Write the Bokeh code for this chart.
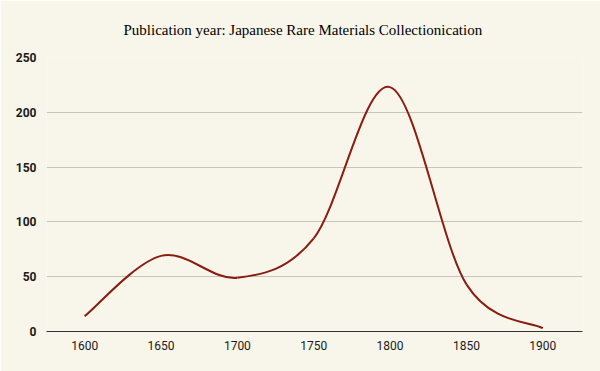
from bokeh.plotting import figure
from bokeh.models import Range1d, FixedTicker, ColumnDataSource
from bokeh.embed import file_html
from bokeh.resources import INLINE

# Data
years = [1600, 1650, 1700, 1750, 1800, 1850, 1900]
counts = [14, 69, 49, 85, 223, 43, 3]
x_ticks = [1600, 1650, 1700, 1750, 1800, 1850, 1900]
y_ticks = [0, 50, 100, 150, 200, 250]
title_text = "Publication year: Japanese Rare Materials Collectionication"

BG = "#f8f5ea"
LINE = "#8b1c10"

p = figure(width=600, height=371, output_backend="svg", toolbar_location=None,
           x_range=Range1d(1575, 1926), y_range=Range1d(0, 250),
           background_fill_color=BG, border_fill_color=BG,
           min_border_left=46, min_border_right=18, min_border_top=57, min_border_bottom=40)
p.outline_line_color = None

p.title.text = title_text
p.title.align = "left"
p.title.offset = 77
p.title.text_font = "Liberation Serif"
p.title.text_font_size = "15px"
p.title.text_font_style = "normal"
p.title.text_color = "#000000"
p.title.standoff = 39

# Smooth curve (Catmull-Rom -> cubic Bezier) through the data points
n = len(years)
x0s, y0s, x1s, y1s, cx0, cy0, cx1, cy1 = [], [], [], [], [], [], [], []
for i in range(n - 1):
    pa = (years[max(i - 1, 0)], counts[max(i - 1, 0)])
    pb = (years[i], counts[i])
    pc = (years[i + 1], counts[i + 1])
    pd = (years[min(i + 2, n - 1)], counts[min(i + 2, n - 1)])
    x0s.append(pb[0]); y0s.append(pb[1])
    x1s.append(pc[0]); y1s.append(pc[1])
    cx0.append(pb[0] + (pc[0] - pa[0]) / 6.0)
    cy0.append(pb[1] + (pc[1] - pa[1]) / 6.0)
    cx1.append(pc[0] - (pd[0] - pb[0]) / 6.0)
    cy1.append(pc[1] - (pd[1] - pb[1]) / 6.0)
src = ColumnDataSource(dict(x0=x0s, y0=y0s, x1=x1s, y1=y1s, cx0=cx0, cy0=cy0, cx1=cx1, cy1=cy1))
p.bezier(x0="x0", y0="y0", x1="x1", y1="y1", cx0="cx0", cy0="cy0", cx1="cx1", cy1="cy1",
         source=src, line_color=LINE, line_width=2)

# Axes
p.xaxis.ticker = FixedTicker(ticks=x_ticks)
p.yaxis.ticker = FixedTicker(ticks=y_ticks)
for ax in (p.xaxis[0], p.yaxis[0]):
    ax.major_tick_line_color = None
    ax.minor_tick_line_color = None
    ax.major_label_text_font = "Roboto"
    ax.major_label_text_font_size = "12px"
    ax.major_label_text_color = "#1a1a1a"
p.yaxis.axis_line_color = None
p.yaxis.major_label_text_font_style = "bold"
p.yaxis.major_label_standoff = 4
p.xaxis.axis_line_color = "#333333"
p.xaxis.axis_line_width = 1
p.xaxis.major_label_standoff = 3

p.xgrid.grid_line_color = None
p.ygrid.grid_line_color = "#c8c4b8"
p.ygrid.grid_line_width = 1

html = file_html(p, INLINE)
open("out.html", "w").write(html)
